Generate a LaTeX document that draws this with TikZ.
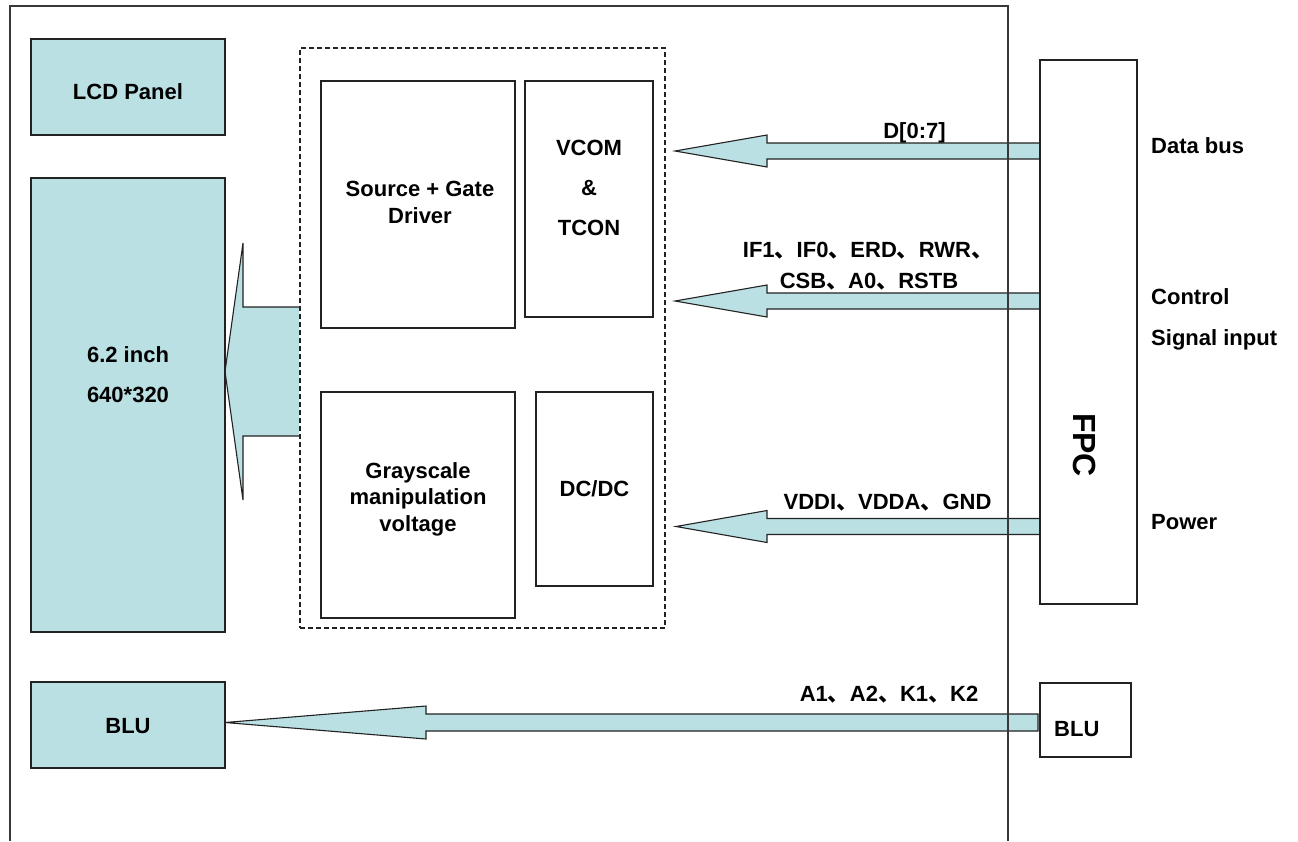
\documentclass[tikz,border=0pt]{standalone}
\usepackage{fontspec}
\setmainfont{Liberation Sans}
\newfontfamily\cjk{Noto Sans CJK SC}
\newcommand{\dn}{{\cjk 、}}
\definecolor{lb}{HTML}{BBE0E3}
\definecolor{ln}{HTML}{222222}
\newcommand\barrow[6]{% #1 right x, #2 centre y, #3 tip x, #4 head base x, #5 head half, #6 shaft half
  \filldraw[arr] (#1,#2-#6) -- (#4,#2-#6) -- (#4,#2-#5) -- (#3,#2) -- (#4,#2+#5) -- (#4,#2+#6) -- (#1,#2+#6) -- cycle;}
\begin{document}
\begin{tikzpicture}[x=1pt,y=-1pt,
  arr/.style={fill=lb, draw=ln, line width=1.1pt, line join=miter},
  box/.style={draw=ln, line width=1.2pt, inner sep=0pt, outer sep=0pt},
  cbox/.style={box, fill=lb},
  txt/.style={font=\bfseries\fontsize{22}{26}\selectfont, inner sep=0pt, anchor=base},
  frame/.style={draw=ln!90, line width=1.2pt}]
\useasboundingbox (0,0) rectangle (1298,841);
% block arrows
\coordinate (bigR) at (299,371.5);
\fill[lb] (299,307) -- (243,307) -- (243,243) -- (225,371.5) -- (243,500) -- (243,436) -- (299,436) -- cycle;
\draw[arr, fill=none] (299,307) -- (243,307) -- (243,243) -- (225,371.5) -- (243,500) -- (243,436) -- (299,436);
\barrow{1040}{151}{675}{767}{16}{8}
\barrow{1040}{301}{675}{767}{16}{8}
\barrow{1040}{526.5}{676}{767}{16}{8}
\barrow{1038}{722.5}{225}{426}{16.5}{8.5}
% boxes
\node[cbox, minimum width=194pt, minimum height=96pt] (lcd) at (128,87) {};
\node[cbox, minimum width=194pt, minimum height=454pt] (disp) at (128,405) {};
\node[cbox, minimum width=194pt, minimum height=86pt] (blul) at (128,725) {};
\node[draw=ln, line width=1.1pt, dash pattern=on 5pt off 3pt, minimum width=365pt, minimum height=580pt, inner sep=0pt] (drv) at (482.5,338) {};
\node[box, minimum width=194pt, minimum height=247pt] (src) at (418,204.5) {};
\node[box, minimum width=128pt, minimum height=236pt] (vcom) at (589,199) {};
\node[box, minimum width=194pt, minimum height=226pt] (gray) at (418,505) {};
\node[box, minimum width=117pt, minimum height=194pt] (dcdc) at (594.5,489) {};
\node[box, minimum width=97pt, minimum height=544pt] (fpc) at (1088.5,332) {};
\node[box, minimum width=91pt, minimum height=74pt] (blur) at (1085.5,720) {};
% outer frame
\draw[frame] (10,841) -- (10,6) -- (1008,6) -- (1008,841);
% texts
\node[txt] (t1) at (128,99) {LCD Panel};
\node[txt] (t2) at (128,362) {6.2 inch};
\node[txt] (t3) at (128,402) {640*320};
\node[txt] (t4) at (128,733) {BLU};
\node[txt] (t5) at (420,196) {Source + Gate};
\node[txt] (t6) at (420,223) {Driver};
\node[txt] (t7) at (589,155) {VCOM};
\node[txt] (t8) at (589,195) {\&};
\node[txt] (t9) at (589,235) {TCON};
\node[txt] (t10) at (418,478) {Grayscale};
\node[txt] (t11) at (418,504) {manipulation};
\node[txt] (t12) at (418,531) {voltage};
\node[txt] (t13) at (594.5,496) {DC/DC};
\node[txt] (t14) at (914.5,138) {D[0:7]};
\node[txt] (t15) at (868,257) {IF1\dn IF0\dn ERD\dn RWR\dn};
\node[txt] (t16) at (869,288) {CSB\dn A0\dn RSTB};
\node[txt] (t17) at (887.5,509) {VDDI\dn VDDA\dn GND};
\node[txt] (t18) at (889,701) {A1\dn A2\dn K1\dn K2};
\node[txt, anchor=base west] (t19) at (1151,153) {Data bus};
\node[txt, anchor=base west] (t20) at (1151,304) {Control};
\node[txt, anchor=base west] (t21) at (1151,345) {Signal input};
\node[txt, anchor=base west] (t22) at (1151,529) {Power};
\node[txt, anchor=base west] (t23) at (1054,736) {BLU};
\node[txt, anchor=center, rotate=-90, font=\bfseries\fontsize{32}{36}\selectfont] (t24) at (1085,445) {FPC};
\end{tikzpicture}
\end{document}
